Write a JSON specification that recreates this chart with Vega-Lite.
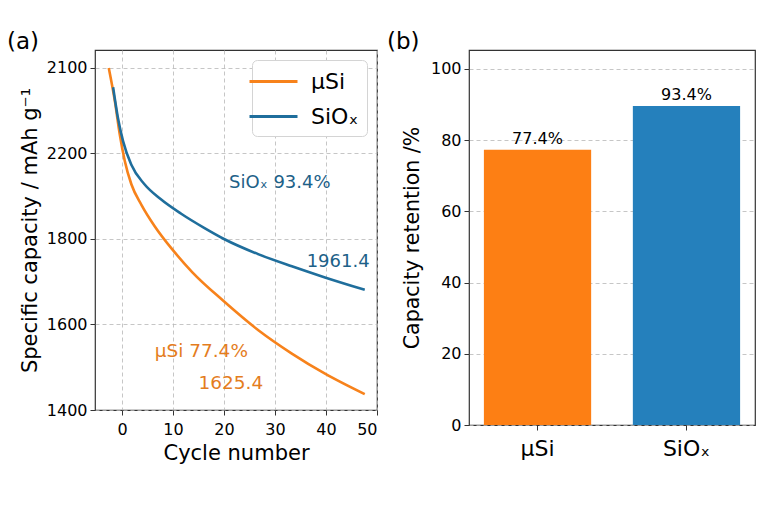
{
  "$schema": "https://vega.github.io/schema/vega-lite/v6.json",
  "background": "white",
  "padding": {"left": 6, "top": 30, "right": 5, "bottom": 5},
  "spacing": 7,
  "config": {
    "font": "DejaVu Sans",
    "view": {"stroke": "#333333", "strokeWidth": 1.2},
    "axis": {
      "labelFont": "DejaVu Sans", "titleFont": "DejaVu Sans",
      "labelColor": "black", "titleColor": "black", "titleFontWeight": "normal",
      "domain": false, "tickColor": "#333333", "tickSize": 5, "tickWidth": 1,
      "gridColor": "#b8b8b8", "gridDash": [4, 3], "gridWidth": 0.8
    },
    "title": {"font": "DejaVu Sans", "fontSize": 23, "fontWeight": "normal", "anchor": "start", "frame": "group", "color": "black"}
  },
  "resolve": {"scale": {"color": "independent"}},
  "datasets": {
    "curves": [
      {"series": "μSi", "cycle": -2.6, "capacity": 2200},
      {"series": "μSi", "cycle": -1.4, "capacity": 2122},
      {"series": "μSi", "cycle": -0.45, "capacity": 2045},
      {"series": "μSi", "cycle": 0.53, "capacity": 1983},
      {"series": "μSi", "cycle": 1.83, "capacity": 1928},
      {"series": "μSi", "cycle": 3.8, "capacity": 1880},
      {"series": "μSi", "cycle": 6.4, "capacity": 1830},
      {"series": "μSi", "cycle": 9.9, "capacity": 1775},
      {"series": "μSi", "cycle": 13.8, "capacity": 1722},
      {"series": "μSi", "cycle": 19.8, "capacity": 1656},
      {"series": "μSi", "cycle": 26.8, "capacity": 1586},
      {"series": "μSi", "cycle": 33.3, "capacity": 1532},
      {"series": "μSi", "cycle": 39.8, "capacity": 1485},
      {"series": "μSi", "cycle": 47.6, "capacity": 1437},
      {"series": "SiOₓ", "cycle": -1.75, "capacity": 2155},
      {"series": "SiOₓ", "cycle": -0.8, "capacity": 2083},
      {"series": "SiOₓ", "cycle": 0.2, "capacity": 2029},
      {"series": "SiOₓ", "cycle": 1.8, "capacity": 1974},
      {"series": "SiOₓ", "cycle": 4.4, "capacity": 1928},
      {"series": "SiOₓ", "cycle": 7.5, "capacity": 1894},
      {"series": "SiOₓ", "cycle": 11.6, "capacity": 1859},
      {"series": "SiOₓ", "cycle": 16.1, "capacity": 1826},
      {"series": "SiOₓ", "cycle": 20, "capacity": 1800},
      {"series": "SiOₓ", "cycle": 26.8, "capacity": 1764},
      {"series": "SiOₓ", "cycle": 33.3, "capacity": 1736},
      {"series": "SiOₓ", "cycle": 39.8, "capacity": 1710},
      {"series": "SiOₓ", "cycle": 47.6, "capacity": 1681}
    ],
    "notes": [
      {"series": "SiOₓ", "cycle": 21, "capacity": 1930, "note": "SiOₓ 93.4%"},
      {"series": "SiOₓ", "cycle": 36.2, "capacity": 1745, "note": "1961.4"},
      {"series": "μSi", "cycle": 6.4, "capacity": 1537, "note": "μSi 77.4%"},
      {"series": "μSi", "cycle": 15, "capacity": 1464, "note": "1625.4"}
    ],
    "retention": [
      {"material": "μSi", "retention": 77.3, "label": "77.4%"},
      {"material": "SiOₓ", "retention": 89.6, "label": "93.4%"}
    ]
  },
  "hconcat": [
    {
      "title": {"text": "(a)", "dx": -88, "offset": -4},
      "width": 282,
      "height": 360,
      "encoding": {
        "x": {
          "field": "cycle", "type": "quantitative",
          "scale": {"domain": [-5.3, 50], "nice": false, "zero": false},
          "axis": {"title": "Cycle number", "values": [0, 10, 20, 30, 40, 50], "labelFontSize": 16, "titleFontSize": 21, "labelPadding": 6, "titlePadding": 5, "grid": true}
        },
        "y": {
          "field": "capacity", "type": "quantitative",
          "scale": {"domain": [1400, 2242], "nice": false, "zero": false},
          "axis": {
            "title": "Specific capacity / mAh g⁻¹",
            "values": [1400, 1600, 1800, 2000, 2200],
            "labelExpr": "datum.value == 2000 ? '2200' : datum.value == 2200 ? '2100' : format(datum.value, 'd')",
            "labelFontSize": 16, "titleFontSize": 21, "labelPadding": 3, "titlePadding": 6, "grid": true
          }
        }
      },
      "layer": [
        {
          "data": {"name": "curves"},
          "transform": [{"filter": "datum.series === 'μSi'"}],
          "mark": {"type": "line", "strokeWidth": 2.6, "interpolate": "monotone"},
          "encoding": {
            "color": {
              "field": "series", "type": "nominal",
              "scale": {"domain": ["μSi", "SiOₓ"], "range": ["#f7821b", "#1f6e9c"]},
              "legend": {
                "title": null, "orient": "top-right", "offset": 10,
                "symbolType": "M-2,0H2", "symbolSize": 576, "symbolStrokeWidth": 3,
                "labelFontSize": 22, "labelFont": "DejaVu Sans", "labelColor": "black",
                "labelOffset": 24, "rowPadding": 10, "padding": 8,
                "strokeColor": "#d4d4d4", "fillColor": "white", "cornerRadius": 5
              }
            }
          }
        },
        {
          "data": {"name": "curves"},
          "transform": [{"filter": "datum.series === 'SiOₓ'"}],
          "mark": {"type": "line", "strokeWidth": 2.6, "interpolate": "monotone"},
          "encoding": {
            "color": {"field": "series", "type": "nominal"}
          }
        },
        {
          "data": {"name": "notes"},
          "transform": [{"filter": "datum.series === 'SiOₓ'"}],
          "mark": {"type": "text", "align": "left", "baseline": "middle", "fontSize": 18, "color": "#1d6188"},
          "encoding": {"text": {"field": "note"}}
        },
        {
          "data": {"name": "notes"},
          "transform": [{"filter": "datum.series === 'μSi'"}],
          "mark": {"type": "text", "align": "left", "baseline": "middle", "fontSize": 18.5, "color": "#e47d1e"},
          "encoding": {"text": {"field": "note"}}
        }
      ]
    },
    {
      "title": {"text": "(b)", "dx": -82, "offset": -4},
      "width": 286,
      "height": 375,
      "data": {"name": "retention"},
      "encoding": {
        "x": {
          "field": "material", "type": "nominal", "sort": null,
          "scale": {"paddingInner": 0.28, "paddingOuter": 0.1},
          "axis": {"title": null, "labelAngle": 0, "labelFontSize": 22, "labelPadding": 8, "grid": false}
        },
        "y": {
          "field": "retention", "type": "quantitative",
          "scale": {"domain": [0, 105.3], "nice": false},
          "axis": {"title": "Capacity retention /%", "values": [0, 20, 40, 60, 80, 100], "labelFontSize": 16, "titleFontSize": 20.5, "labelPadding": 3, "titlePadding": 8, "grid": true}
        }
      },
      "layer": [
        {
          "mark": {"type": "bar"},
          "encoding": {
            "color": {
              "field": "material", "type": "nominal",
              "scale": {"domain": ["μSi", "SiOₓ"], "range": ["#fd7f14", "#2580bc"]},
              "legend": null
            }
          }
        },
        {
          "mark": {"type": "text", "baseline": "bottom", "dy": -3, "fontSize": 16, "color": "black"},
          "encoding": {"text": {"field": "label"}}
        }
      ]
    }
  ]
}
